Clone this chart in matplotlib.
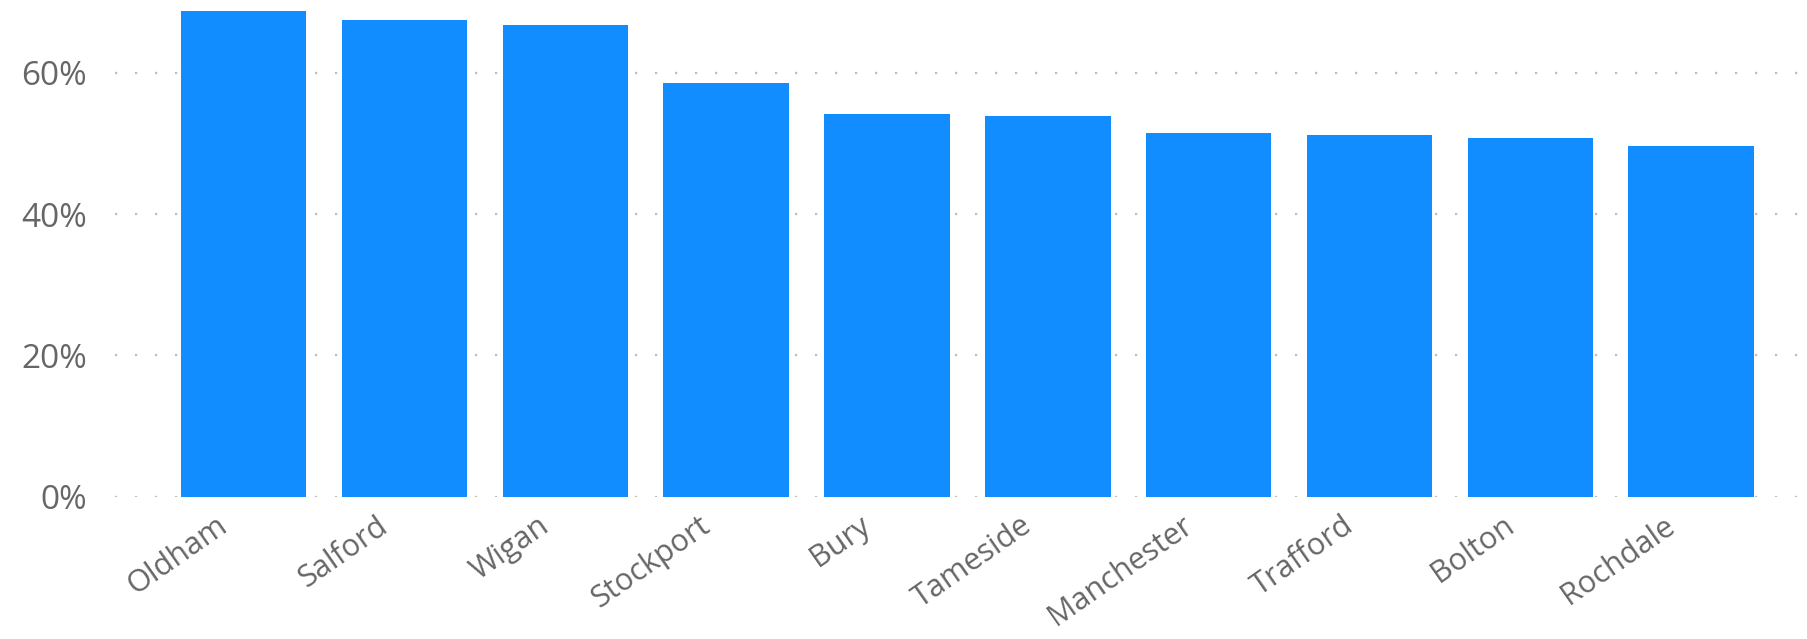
import matplotlib.pyplot as plt
from matplotlib.ticker import FuncFormatter
from matplotlib.transforms import ScaledTranslation

# boroughs and share values (%)
boroughs = ["Oldham", "Salford", "Wigan", "Stockport", "Bury",
            "Tameside", "Manchester", "Trafford", "Bolton", "Rochdale"]
share = [68.7, 67.5, 66.7, 58.5, 54.2, 53.9, 51.5, 51.2, 50.8, 49.6]
yticks = [0, 20, 40, 60]

plt.rcParams['font.family'] = ['Open Sans', 'DejaVu Sans']

fig = plt.figure(figsize=(18.07, 6.39), dpi=100)
ax = fig.add_axes([115 / 1807, 0.2227, 1 - 115 / 1807, 0.7773])

x = range(len(boroughs))
ax.bar(x, share, width=0.78, color="#118DFF", zorder=2)

ax.set_xlim(-0.8, 9.72)
ax.set_ylim(0, 70.3)
ax.set_yticks(yticks)
ax.yaxis.set_major_formatter(FuncFormatter(lambda v, p: f"{v:.0f}%"))
ax.grid(axis="y", color="#bdbdbd", linestyle=(0, (1, 8)), linewidth=1.6, zorder=0)

ax.set_xticks(list(x))
ax.set_xticklabels(boroughs, rotation=35, ha="right", rotation_mode="anchor")

for s in ax.spines.values():
    s.set_visible(False)
ax.tick_params(axis="both", length=0, colors="#666666")
ax.tick_params(axis="y", pad=20, labelsize=24)
ax.tick_params(axis="x", pad=10, labelsize=22)

# nudge the rotated labels left so their ends sit just left of the bar centre
shift = ScaledTranslation(-0.28, 0, fig.dpi_scale_trans)
for lab in ax.get_xticklabels():
    lab.set_transform(lab.get_transform() + shift)

fig.savefig("out.png", dpi=100)
